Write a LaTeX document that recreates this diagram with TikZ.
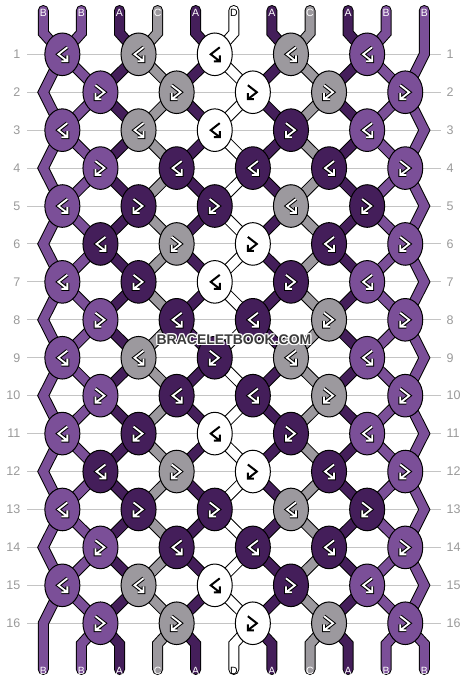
\documentclass[tikz,border=0pt]{standalone}
\usepackage{fontspec}
\setmainfont{Liberation Sans}
\usetikzlibrary{shapes.geometric}
\definecolor{knP}{HTML}{7B4F98}
\definecolor{knK}{HTML}{441E5A}
\definecolor{knG}{HTML}{9C999E}
\definecolor{knW}{HTML}{FFFFFF}
\definecolor{rowline}{HTML}{C4C4C4}
\definecolor{rownum}{HTML}{9A9A9A}
\definecolor{wmtext}{HTML}{3C3C3C}
\tikzset{
  knot/.style={ellipse, draw=black, line width=1pt, minimum width=35pt, minimum height=42.6pt, inner sep=0pt},
  bandout/.style={line width=11pt, draw=black, line cap=round, line join=miter},
  bandin/.style={line width=9pt, line cap=round, line join=miter},
  rowrule/.style={draw=rowline, line width=1pt},
  rownumstyle/.style={text=rownum, font=\fontsize{12.5}{14}\selectfont, inner sep=0pt},
  endlabel/.style={font=\fontsize{10.5}{12}\selectfont, inner sep=0pt},
  wmstyle/.style={font=\fontsize{14}{16}\selectfont\bfseries, inner sep=0pt},
  glyphline/.style={line cap=butt, line join=miter},
}
\newcommand\kglyph[3]{%
  \ifx L#2\def\sg{1}\else\def\sg{-1}\fi
  \begin{scope}[shift={(#1.center)}, xscale=\sg]
    \ifx W#3
      \draw[glyphline, line width=2pt] (5,-7) -- (-4,0) -- (5,7) (5,1) -- (5,7) -- (-1,7);
    \else
      \draw[glyphline, line width=3.8pt] (5,-7) -- (-4,0) -- (5,7) (5,1) -- (5,7) -- (-1,7);
      \draw[glyphline, white, line width=1.8pt] (5,-7) -- (-4,0) -- (5,7) (5,1) -- (5,7) -- (-1,7);
    \fi
  \end{scope}}
\def\ktx#1#2\relax#3#4{%
  \pgfmathsetmacro\ky{54.3+37.93*(#3-1)}%
  \pgfmathsetmacro\kx{ifthenelse(isodd(#3), 62.35+76.2*(#4-1), 100.45+76.2*(#4-1))}%
  \node[knot, fill=kn#1] (k#3-#4) at (\kx,\ky) {};
  \kglyph{k#3-#4}{#2}{#1}}
\newcommand\kt[3]{\edef\krow{#1}\edef\kcol{#2}\edef\tmp{#3}%
  \expandafter\ktx\tmp\relax{\krow}{\kcol}}
\begin{document}
\begin{tikzpicture}[x=1pt,y=-1pt]
\useasboundingbox (0,0) rectangle (468,680);
\fill[white] (0,0) rectangle (468,680);
% row lines and numbers
\foreach \r in {1,...,16}{
  \pgfmathsetmacro\yr{54.3+37.93*(\r-1)}
  \draw[rowrule] (27,\yr) -- (441,\yr);
  \node[rownumstyle, anchor=east] (ln\r) at (20.5,\yr) {\r};
  \node[rownumstyle, anchor=west] (rn\r) at (446.5,\yr) {\r};
}
% string coordinates
\foreach \i in {1,...,11}{
  \pgfmathsetmacro\xs{43.3+38.1*(\i-1)}
  \coordinate (s\i-t) at (\xs,10.5);
  \coordinate (s\i-0) at (\xs,33);
  \coordinate (s\i-17) at (\xs,644);
  \coordinate (s\i-b) at (\xs,669.5);
  \foreach \r in {1,...,16}{
    \pgfmathsetmacro\yr{54.3+37.93*(\r-1)}
    \pgfmathsetmacro\xr{ifthenelse(isodd(\r), ifthenelse(\i==11, \xs, 43.3+38.1*(2*ceil(\i/2)-1.5)), ifthenelse(\i==1, \xs, 43.3+38.1*(2*floor(\i/2)-0.5)))}
    \coordinate (s\i-\r) at (\xr,\yr);
  }
}
% bands
\foreach \i in {1,...,11}{
  \draw[bandout] (s\i-t) -- (s\i-0) \foreach \r in {1,...,17}{ -- (s\i-\r)} -- (s\i-b);
}
\foreach \i/\col in {1/knP,2/knP,3/knK,4/knG,5/knK,6/knW,7/knK,8/knG,9/knK,10/knP,11/knP}{
  \draw[bandin, draw=\col] (s\i-t) -- (s\i-0) \foreach \r in {1,...,17}{ -- (s\i-\r)} -- (s\i-b);
}
% end labels
\foreach \i/\l/\tc in {1/B/white,2/B/white,3/A/white,4/C/white,5/A/white,6/D/black,7/A/white,8/C/white,9/A/white,10/B/white,11/B/white}{
  \node[endlabel, text=\tc] (lt\i) at ([yshift=-2pt]s\i-t) {\l};
  \node[endlabel, text=\tc] (lb\i) at ([yshift=-1.5pt]s\i-b) {\l};
}
% knots
\foreach \r/\a/\b/\c/\d/\e in {
  1/PL/GL/WL/GL/PL, 2/PR/GR/WR/GR/PR, 3/PL/GL/WL/KR/PL, 4/PR/KL/KL/KL/PR,
  5/PL/KR/KR/GL/KR, 6/KL/GR/WR/KL/PR, 7/PL/KR/WL/KR/PL, 8/PR/KL/KL/GR/PR,
  9/PL/GL/KR/GL/PL, 10/PR/KL/KL/GR/PR, 11/PL/KR/WL/KR/PL, 12/KL/GR/WR/KL/PR,
  13/PL/KR/KR/GL/KR, 14/PR/KL/KL/KL/PR, 15/PL/GL/WL/KR/PL, 16/PR/GR/WR/GR/PR}{
  \kt{\r}{1}{\a}\kt{\r}{2}{\b}\kt{\r}{3}{\c}\kt{\r}{4}{\d}\kt{\r}{5}{\e}
}
% watermark
\foreach \k/\dx/\dy in {1/-1/-1,2/0/-1,3/1/-1,4/-1/0,5/1/0,6/-1/1,7/0/1,8/1/1}{
  \node[wmstyle, text=white] (wmh\k) at (234+\dx,340+\dy) {BRACELETBOOK.COM};
}
\node[wmstyle, text=wmtext] (wm) at (234,340) {BRACELETBOOK.COM};
\end{tikzpicture}
\end{document}
